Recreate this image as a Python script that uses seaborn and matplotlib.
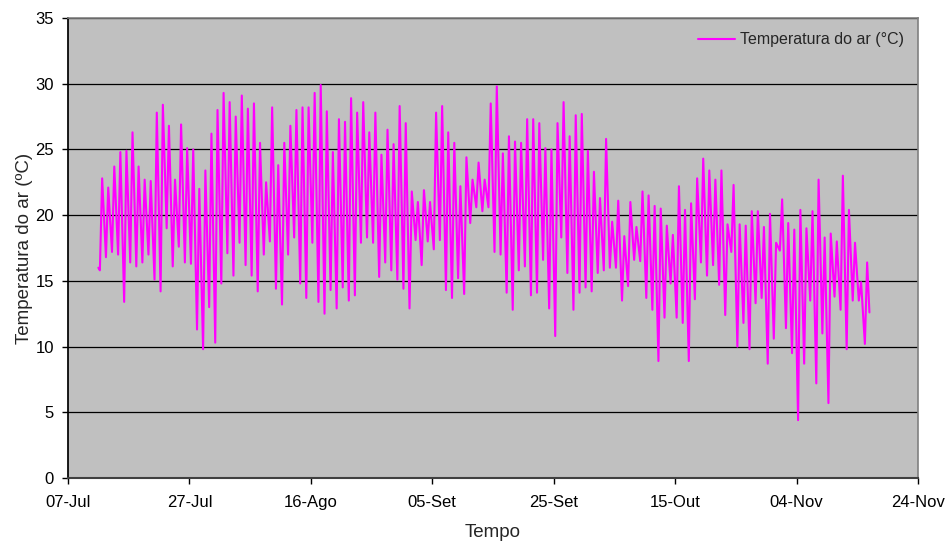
import numpy as np
import pandas as pd
import matplotlib
matplotlib.use("Agg")
import matplotlib.pyplot as plt
import seaborn as sns

# Daily afternoon maxima (one per day, 12-Jul .. 15-Nov)
daily_max = [
    22.8, 22.1, 23.7, 24.8, 24.9, 26.3, 23.7, 22.7, 22.6, 27.8, 28.4, 26.8, 22.7, 26.9, 25.1, 25.0, 22.0, 23.4, 26.2, 28.0, 29.3,
    28.6, 27.5, 29.1, 28.1, 28.5, 25.5, 22.5, 28.2, 23.8, 25.5, 26.8, 28.0, 28.2, 28.2, 29.3, 29.9, 27.9, 24.8, 27.3, 27.1, 28.9,
    27.8, 28.6, 26.3, 27.8, 24.6, 26.5, 25.4, 28.3, 27.0, 21.8, 21.0, 21.9, 21.0, 27.8, 28.3, 26.3, 25.5, 22.2, 24.4, 22.7, 24.0,
    22.7, 28.5, 29.8, 24.7, 26.0, 25.6, 25.5, 27.3, 27.3, 27.0, 25.1, 25.0, 27.0, 28.6, 26.0, 27.6, 27.7, 24.9, 23.3, 21.3, 25.8, 19.5,
    21.1, 18.4, 21.0, 19.1, 21.8, 21.5, 20.7, 20.5, 19.2, 18.5, 22.2, 20.4, 20.9, 22.8, 24.3, 23.4, 22.7, 23.4, 19.3, 22.3, 19.3,
    19.2, 20.3, 20.3, 19.1, 20.1, 17.9, 21.2, 19.4, 18.9, 20.4, 19.0, 20.3, 22.7, 18.3, 18.6, 18.0, 23.0, 20.4, 17.9, 14.9, 16.4,
]
# Night-time minima between consecutive maxima
daily_min = [
    16.8, 17.2, 17.0, 13.4, 16.4, 16.1, 16.4, 17.0, 15.1, 14.2, 19.0, 16.1, 17.6, 16.4, 16.3, 11.3, 9.8, 13.0, 10.3, 14.8,
    17.1, 15.4, 17.9, 16.2, 15.4, 14.2, 17.0, 18.0, 14.4, 13.2, 17.0, 18.3, 14.8, 13.7, 17.9, 13.4, 12.5, 14.3, 12.9, 14.5, 13.5,
    13.9, 17.9, 18.3, 17.9, 15.3, 16.4, 15.8, 15.1, 14.4, 12.9, 18.1, 16.2, 18.0, 17.4, 18.1, 14.3, 13.7, 15.2, 14.0, 19.4, 20.6,
    20.3,
    20.6, 17.2, 17.0, 14.1, 12.8, 15.8, 16.1, 13.9, 14.1, 16.6, 12.9, 10.8, 18.3, 15.6, 12.8, 14.1, 14.5, 14.2, 15.6, 15.8, 16.0,
    16.0, 13.5, 14.6, 16.6, 16.5, 13.7, 12.8, 8.9, 12.2, 14.8, 12.2, 11.8, 8.9, 13.6, 16.4, 15.4, 16.2, 14.7, 12.4, 17.2, 10.0,
    11.8, 9.8, 13.3, 13.7, 8.7, 10.6, 17.3, 11.4, 9.5, 4.4, 8.7, 13.5, 7.2, 11.0, 5.7, 13.8, 12.8, 9.8, 13.5, 13.5, 10.2,
]
start_value = 16.0
first_min = 15.8
end_value = 12.6
first_day = "2008-07-12"

tick_dates = ["2008-07-07", "2008-07-27", "2008-08-16", "2008-09-05",
              "2008-09-25", "2008-10-15", "2008-11-04", "2008-11-24"]
tick_labels = ["07-Jul", "27-Jul", "16-Ago", "05-Set", "25-Set", "15-Out", "04-Nov", "24-Nov"]

# Build the time series: maxima at 15h, minima at 06h next day
days = pd.date_range(first_day, periods=len(daily_max), freq="D")
times = [days[0], days[0] + pd.Timedelta(hours=6)]
vals = [start_value, first_min]
for i, d in enumerate(days):
    times.append(d + pd.Timedelta(hours=15))
    vals.append(daily_max[i])
    if i < len(daily_min):
        times.append(d + pd.Timedelta(hours=30))
        vals.append(daily_min[i])
times.append(days[-1] + pd.Timedelta(hours=24))
vals.append(end_value)
df = pd.DataFrame({"Tempo": times, "Temperatura do ar (°C)": vals})

sns.set_theme(style="white")
plt.rcParams["font.family"] = ["Liberation Sans", "DejaVu Sans"]

fig = plt.figure(figsize=(9.47, 5.41), dpi=100)
ax = fig.add_axes([68 / 947, 1 - 478 / 541, 850 / 947, 460 / 541])
ax.set_facecolor("#C0C0C0")

sns.lineplot(data=df, x="Tempo", y="Temperatura do ar (°C)", ax=ax,
             color="#FF00FF", linewidth=1.5, estimator=None, sort=False,
             label="Temperatura do ar (°C)")

ax.set_xlim(pd.Timestamp(tick_dates[0]), pd.Timestamp(tick_dates[-1]))
ax.set_ylim(0, 35)
ax.set_yticks(np.arange(0, 36, 5))
ax.set_xticks([pd.Timestamp(t) for t in tick_dates])
ax.set_xticklabels(tick_labels)
ax.yaxis.grid(True, color="black", linewidth=0.9)
ax.xaxis.grid(False)
ax.set_axisbelow(True)

for s in ["top", "right"]:
    ax.spines[s].set_color("#808080")
    ax.spines[s].set_linewidth(1.2)
ax.spines["left"].set_color("black")
ax.spines["bottom"].set_color("#404040")
ax.spines["bottom"].set_linewidth(1.5)

ax.tick_params(axis="both", which="major", labelsize=12, colors="black",
               length=4, width=1, direction="out", bottom=True, left=True)
ax.tick_params(axis="x", pad=8)
ax.tick_params(axis="y", pad=6)
ax.set_xlabel("Tempo", fontsize=13.5, labelpad=10)
ax.set_ylabel("Temperatura do ar (ºC)", fontsize=13.5, labelpad=2)

leg = ax.legend(loc="upper right", frameon=False, fontsize=11.5,
                handlelength=2.3, handletextpad=0.3, borderaxespad=0.5)

fig.savefig("out.png", dpi=100, facecolor="white")
